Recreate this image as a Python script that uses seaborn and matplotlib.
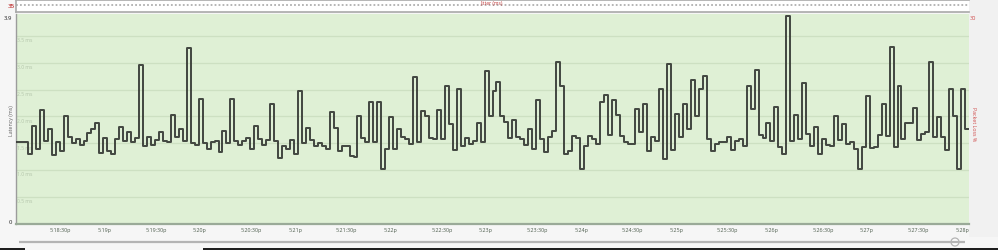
import numpy as np
import pandas as pd
import matplotlib
matplotlib.use("Agg")
import matplotlib.pyplot as plt
import seaborn as sns
from matplotlib.patches import Rectangle, Ellipse

sns.set_theme(style="white")
plt.rcParams["font.family"] = ["Open Sans", "DejaVu Sans"]

# ---------------- data (latency in ms, one sample every 2.5 s) ----------------
latency_a = [1.53, 1.53, 1.53, 1.30, 1.82, 1.40, 2.12, 1.54, 1.77, 1.28,
             1.53, 1.36, 2.00, 1.62, 1.51, 1.57, 1.47, 1.55, 1.69, 1.77,
             1.88, 1.31, 1.60, 1.36, 1.30, 1.57, 1.80, 1.55, 1.71, 1.53,
             1.60, 2.95, 1.45, 1.62, 1.47, 1.56, 1.71, 1.54, 1.52, 2.03,
             1.62, 1.76, 1.55, 3.28, 1.51, 1.47, 2.32, 1.50, 1.39, 1.53,
             1.55, 1.34, 1.72, 1.50, 2.33, 1.55, 1.47, 1.55, 1.60, 1.40,
             1.83]
latency_b = [1.57, 1.47, 1.56, 2.24, 1.55, 1.22, 1.44, 1.40, 1.56, 1.30,
             2.47, 1.50, 1.78, 1.56, 1.44, 1.50, 1.45, 1.40, 2.08, 1.78,
             1.36, 1.45, 1.45, 1.26, 1.25, 2.01, 1.60, 1.52, 2.27, 1.53,
             2.27, 1.01, 1.40, 1.98, 1.39, 1.76, 1.62, 1.58, 1.49, 2.73,
             1.53, 2.10, 2.00, 1.60, 1.58, 2.11, 1.58, 2.56, 1.85, 1.37,
             2.52, 1.45, 1.60, 1.48, 1.55, 1.88, 1.52, 2.85, 2.01, 2.47]
latency_c = [2.65, 2.00, 1.90, 1.59, 1.93, 1.61, 1.57, 1.47, 1.77, 1.39,
             2.30, 1.57, 1.34, 1.62, 1.72, 3.01, 2.57, 1.29, 1.36, 1.63,
             1.60, 1.01, 1.45, 1.63, 1.57, 1.49, 2.27, 2.39, 1.65, 2.30,
             2.02, 1.63, 1.53, 1.48, 1.48, 2.13, 1.71, 2.24, 1.35, 1.61,
             1.55, 2.51, 1.21, 2.98, 1.37, 2.04, 1.61, 2.23, 1.76, 2.67,
             2.01, 2.52, 2.76, 1.58, 1.35, 1.49, 1.53, 1.53, 1.61, 1.37]
latency_d = [1.55, 1.57, 1.44, 2.57, 2.14, 2.87, 1.66, 1.60, 1.88, 1.55,
             2.18, 1.43, 1.30, 3.87, 1.55, 2.03, 1.57, 2.62, 1.68, 1.45,
             1.81, 1.30, 1.58, 1.46, 1.45, 2.01, 1.56, 1.86, 1.49, 1.53,
             1.39, 1.01, 1.43, 2.38, 1.41, 1.43, 1.65, 2.24, 1.63, 3.29,
             1.42, 2.57, 1.58, 1.88, 1.88, 2.16, 1.56, 1.68, 1.71, 3.01,
             1.61, 1.99, 1.62, 1.37, 2.51, 2.01, 1.01, 2.51, 1.76]
latency_ms = latency_a + latency_b + latency_c + latency_d

start_sec = 8.6        # seconds after 5:18:00 pm
interval_sec = 2.5

tick_sec = [30, 60, 90, 120, 150, 180, 210, 240, 270, 300,
            330, 360, 390, 420, 450, 480, 510, 540, 570, 600]
tick_labels = ["5:18:30p", "5:19p", "5:19:30p", "5:20p", "5:20:30p", "5:21p",
               "5:21:30p", "5:22p", "5:22:30p", "5:23p", "5:23:30p", "5:24p",
               "5:24:30p", "5:25p", "5:25:30p", "5:26p", "5:26:30p", "5:27p",
               "5:27:30p", "5:28p"]
grid_vals = [0.5, 1.0, 1.5, 2.0, 2.5, 3.0, 3.5]
grid_labels = ["0.5 ms", "1.0 ms", "1.5 ms", "2.0 ms", "2.5 ms", "3.0 ms", "3.5 ms"]
y_max = 3.91

times = start_sec + interval_sec * np.arange(len(latency_ms))
df = pd.DataFrame({
    "t": np.append(times, times[-1] + interval_sec),
    "ms": latency_ms + [latency_ms[-1]],
})

# ---------------- figure ----------------
W, H = 998, 251
fig = plt.figure(figsize=(W / 100, H / 100), dpi=100, facecolor="#f6f6f6")


def box(x0, y0, x1, y1):
    return [x0 / W, 1 - y1 / H, (x1 - x0) / W, (y1 - y0) / H]


# overlay for decorations (pixel coordinates)
ov = fig.add_axes([0, 0, 1, 1], zorder=0)
ov.set_xlim(0, W)
ov.set_ylim(H, 0)
ov.axis("off")
ov.add_patch(Rectangle((969, 0), 29, 238, color="#f1f1f1", lw=0))
ov.plot([19, 965], [243, 243], color="#b4b4b4", lw=1.6, solid_capstyle="butt")
ov.add_patch(Ellipse((955, 243), 8, 8, facecolor="#fafafa", edgecolor="#b4b4b4", lw=0.9))
ov.add_patch(Rectangle((0, 249.3), 25, 2, color="#1e1e1e", lw=0))
ov.add_patch(Rectangle((203, 249.3), 795, 2, color="#1e1e1e", lw=0))

# jitter strip
axj = fig.add_axes(box(16, 1, 969, 13), zorder=1)
axj.set_facecolor("white")
axj.set_xlim(0, 1)
axj.set_ylim(0, 1)
axj.axhline(0.6, color="#b0b0b0", lw=1.3, linestyle=(0, (1, 1.2)))
axj.set_xticks([])
axj.set_yticks([])
for s in ["top", "bottom", "left"]:
    axj.spines[s].set_color("#a9a9a9")
    axj.spines[s].set_linewidth(1.2)
axj.spines["right"].set_visible(False)

# main latency plot
ax = fig.add_axes(box(16, 15, 969, 224.6), zorder=2)
ax.set_facecolor("#dff0d5")
for g in grid_vals:
    ax.axhline(g, color="#cde0c2", lw=0.9, zorder=0)
for g, lab in zip(grid_vals, grid_labels):
    ax.text(0.0015, g - 0.025, lab, transform=ax.get_yaxis_transform(),
            ha="left", va="top", fontsize=3.6, color="#b3c4aa")

sns.lineplot(data=df, x="t", y="ms", drawstyle="steps-post", color="#1e1e1e",
             lw=1.25, ax=ax, estimator=None, zorder=3)
sns.lineplot(data=df, x="t", y="ms", drawstyle="steps-post", color="#7f8f7a",
             lw=0.3, ax=ax, estimator=None, zorder=4)

ax.set_xlim(start_sec, start_sec + interval_sec * len(latency_ms))
ax.set_ylim(0, y_max)
ax.set_xlabel("")
ax.set_ylabel("")
ax.set_xticks(tick_sec)
ax.set_xticklabels(tick_labels, fontsize=3.9, color="#4e5e4e", ha="left")
ax.tick_params(axis="x", direction="out", length=2, width=0.6, color="#7d8d7d", pad=0.8)
ax.set_yticks([0, 3.9])
ax.set_yticklabels(["0", "3.9"], fontsize=4.2, color="#555555", fontweight="semibold")
ax.tick_params(axis="y", length=0, pad=2.5)
ylabs = ax.get_yticklabels()
ylabs[0].set_va("bottom")
ylabs[1].set_va("top")
ax.spines["left"].set_color("#9c9c9c")
ax.spines["left"].set_linewidth(1.0)
ax.spines["bottom"].set_color("#9aaa98")
ax.spines["bottom"].set_linewidth(1.6)
ax.spines["top"].set_visible(False)
ax.spines["right"].set_visible(False)

# outer texts
def px(x, y):
    return x / W, 1 - y / H

fig.text(*px(11, 6), "35", color="#c23b3b", fontsize=4.6, fontweight="semibold",
         ha="center", va="center")
fig.text(*px(492, 3.6), "Jitter (ms)", color="#c23b3b", fontsize=3.6,
         ha="center", va="center")
fig.text(*px(973, 18), "30", color="#d04a4a", fontsize=4.0, ha="center", va="center")
fig.text(*px(973, 124), "Packet Loss %", color="#d04a4a", fontsize=3.8,
         rotation=-90, ha="center", va="center")
fig.text(*px(12, 121), "Latency (ms)", color="#606060", fontsize=3.8,
         rotation=90, ha="center", va="center")

fig.savefig("out.png", dpi=100, facecolor=fig.get_facecolor())
